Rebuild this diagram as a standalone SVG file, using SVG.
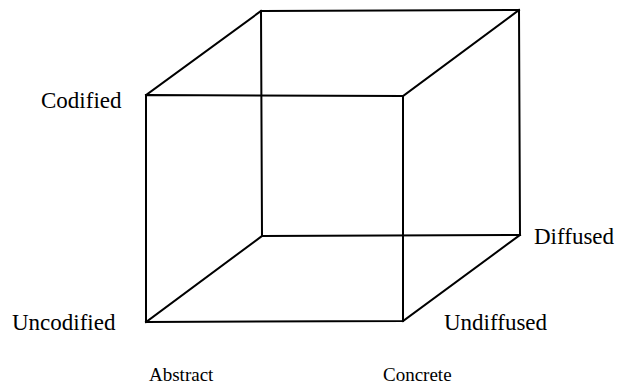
<svg xmlns="http://www.w3.org/2000/svg" width="618" height="387" viewBox="0 0 618 387">
  <style>
    .edge { fill: none; stroke: #000; stroke-width: 2; stroke-linecap: square; }
    .label { font-family: "Liberation Serif", "Times New Roman", serif; font-size: 23px; fill: #000; }
    .axis { font-size: 19px; }
  </style>
  <rect width="618" height="387" fill="#fff"/>
  <g id="connectors">
    <!-- back face -->
    <path class="edge" d="M261,11 L519,10 L520,235 L262,236 Z"/>
    <!-- front face -->
    <path class="edge" d="M146,95 L403,96 L403,321 L146,322 Z"/>
    <!-- depth edges -->
    <path class="edge" d="M146,95 L261,11"/>
    <path class="edge" d="M403,96 L519,10"/>
    <path class="edge" d="M146,322 L262,236"/>
    <path class="edge" d="M403,321 L520,235"/>
  </g>
  <g id="codified"><text class="label" x="41" y="108">Codified</text></g>
  <g id="uncodified"><text class="label" x="12" y="330">Uncodified</text></g>
  <g id="diffused"><text class="label" x="534" y="244">Diffused</text></g>
  <g id="undiffused"><text class="label" x="444" y="330">Undiffused</text></g>
  <g id="abstract"><text class="label axis" x="149" y="381">Abstract</text></g>
  <g id="concrete"><text class="label axis" x="383" y="381">Concrete</text></g>
</svg>
